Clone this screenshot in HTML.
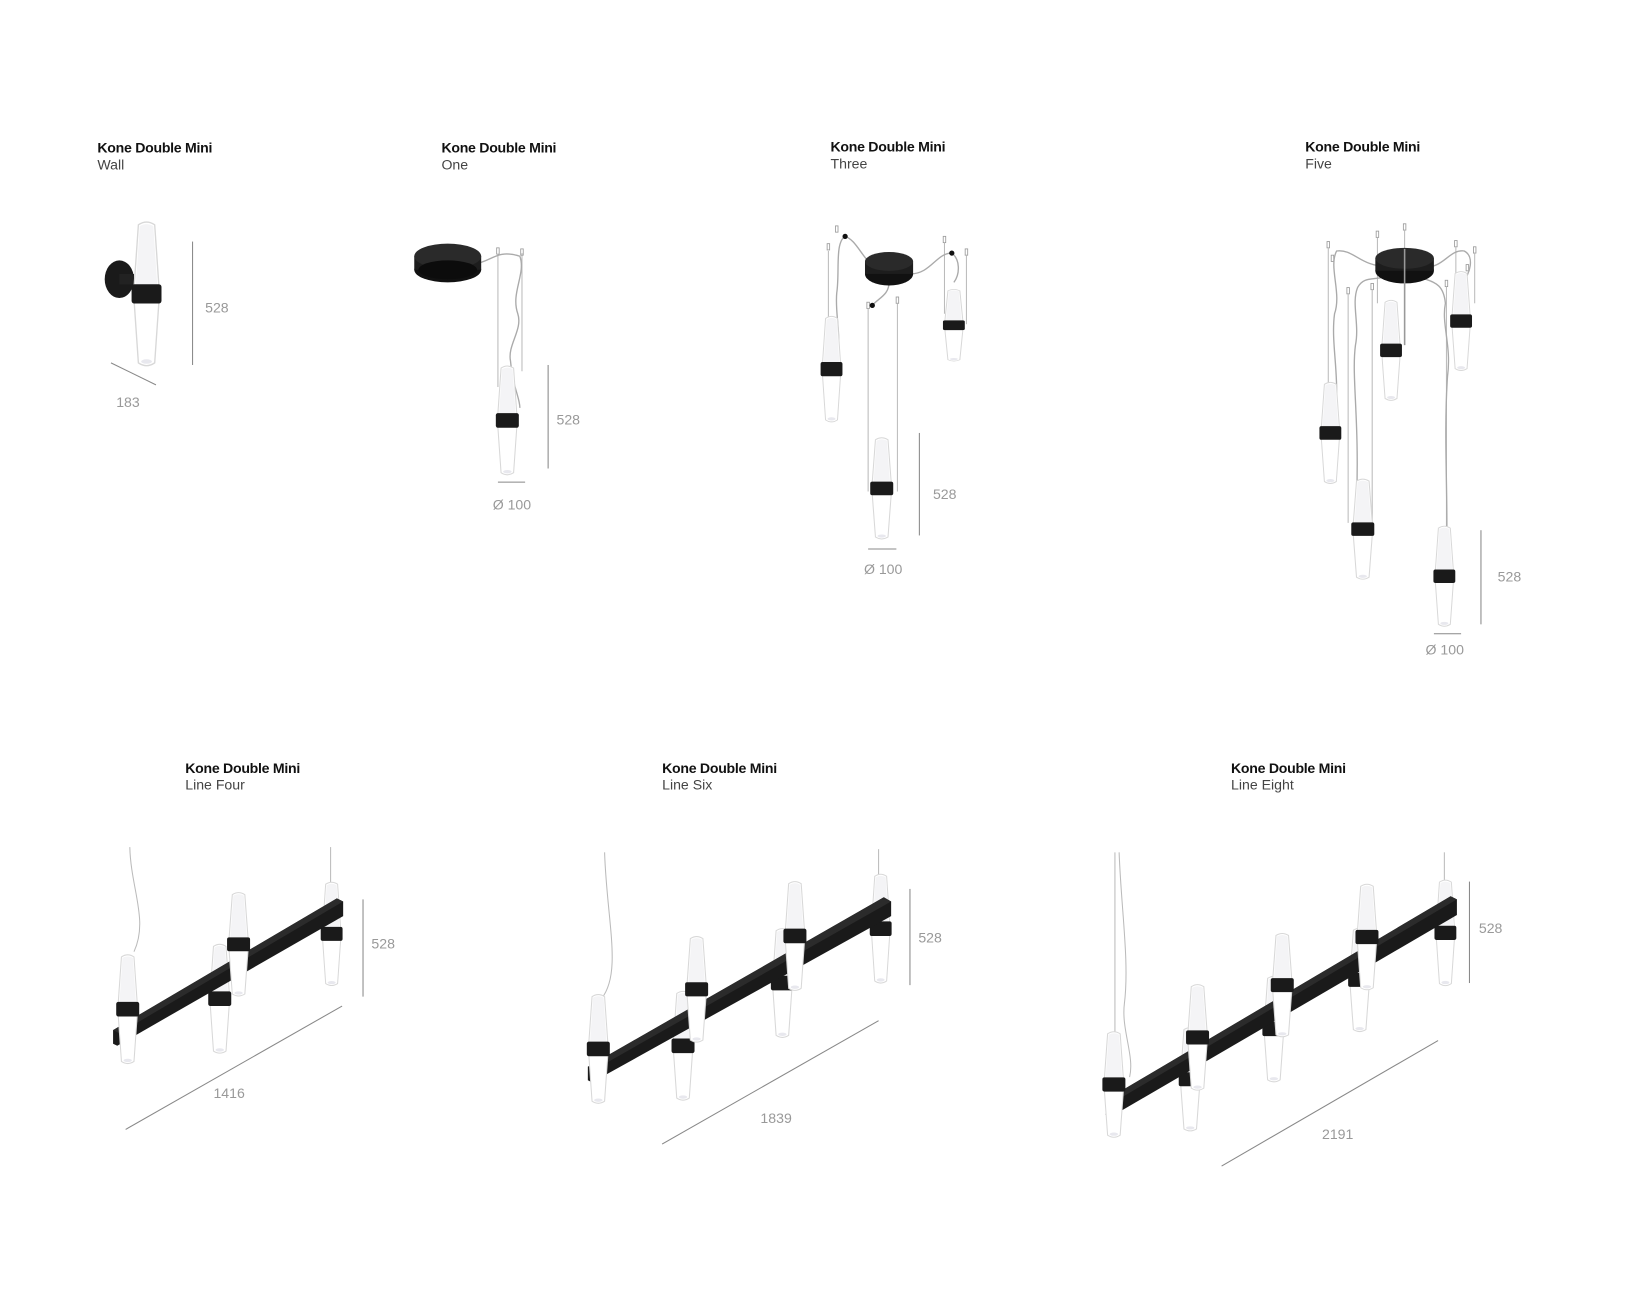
<!DOCTYPE html>
<html><head><meta charset="utf-8"><style>
html,body{margin:0;padding:0;background:#fff;}
svg{display:block;}
.t{font-family:"Liberation Sans",sans-serif;font-size:13.5px;fill:#111;font-weight:bold;}
.s{font-family:"Liberation Sans",sans-serif;font-size:13.5px;fill:#444;}
.d{font-family:"Liberation Sans",sans-serif;font-size:13.5px;fill:#999;}
.w{stroke:#bbb;stroke-width:1;fill:none;}
.c{stroke:#aaa;stroke-width:1.3;fill:none;}
.dim{stroke:#888;stroke-width:1;}
</style></head><body>
<svg width="1639" height="1302" viewBox="0 0 1567 1245" xmlns="http://www.w3.org/2000/svg">
<defs>
<g id="lamp">
<path d="M-6,-50 Q0,-54 6,-50 L9.5,0 L6,50 Q0,54 -6,50 L-9.5,0 Z" fill="#fff" stroke="#d8d8d8" stroke-width="1"/>
<path d="M-5,-49 Q0,-52 5,-49 L8,-5 L-8,-5 Z" fill="#f4f4f6"/>
<rect x="-11" y="-7" width="22" height="14" rx="2" fill="#1a1a1a"/>
<ellipse cx="0" cy="49" rx="4" ry="1.6" fill="#e8e8ee"/>
</g>
<g id="hook"><rect x="-1.2" y="0" width="2.4" height="6" fill="none" stroke="#999" stroke-width="0.8"/></g>
</defs>

<!-- titles -->
<text class="t" x="93" y="146" textLength="110">Kone Double Mini</text><text class="s" x="93" y="162">Wall</text>
<text class="t" x="422" y="146" textLength="110">Kone Double Mini</text><text class="s" x="422" y="162">One</text>
<text class="t" x="794" y="145" textLength="110">Kone Double Mini</text><text class="s" x="794" y="161">Three</text>
<text class="t" x="1248" y="145" textLength="110">Kone Double Mini</text><text class="s" x="1248" y="161">Five</text>
<text class="t" x="177" y="739" textLength="110">Kone Double Mini</text><text class="s" x="177" y="755">Line Four</text>
<text class="t" x="633" y="739" textLength="110">Kone Double Mini</text><text class="s" x="633" y="755">Line Six</text>
<text class="t" x="1177" y="739" textLength="110">Kone Double Mini</text><text class="s" x="1177" y="755">Line Eight</text>

<!-- WALL -->
<ellipse cx="114" cy="267" rx="14" ry="18" fill="#1a1a1a"/>
<rect x="114" y="262" width="14" height="10" fill="#222"/>
<use href="#lamp" transform="translate(140,281) scale(1.3,1.32)"/>
<line class="dim" x1="184" y1="231" x2="184" y2="349" stroke="#ccc"/>
<text class="d" x="196" y="299">528</text>
<line class="dim" x1="106" y1="347" x2="149" y2="368" stroke="#555"/>
<text class="d" x="111" y="389">183</text>

<!-- ONE -->
<line class="w" x1="499" y1="242" x2="499" y2="355"/>
<use href="#hook" transform="translate(476,237)"/><use href="#hook" transform="translate(499,238)"/>
<line class="w" x1="476" y1="243" x2="476" y2="370"/>
<path class="c" d="M455,252 C470,250 475,238 497,245 C503,262 488,280 495,300 C500,315 485,330 488,345 C490,370 497,380 497,390"/>
<ellipse cx="428" cy="258" rx="32" ry="12" fill="#111"/>
<rect x="396" y="245" width="64" height="13" fill="#1d1d1d"/>
<ellipse cx="428" cy="245" rx="32" ry="12" fill="#2a2a2a"/>
<ellipse cx="428" cy="258" rx="28" ry="9" fill="#0c0c0c"/>
<use href="#lamp" transform="translate(485,402)"/>
<line class="dim" x1="524" y1="349" x2="524" y2="448" stroke="#444"/>
<text class="d" x="532" y="406">528</text>
<line class="dim" x1="476" y1="461" x2="502" y2="461" stroke="#444"/>
<text class="d" x="471" y="487">Ø 100</text>

<!-- THREE -->
<use href="#hook" transform="translate(800,216)"/><use href="#hook" transform="translate(792,233)"/>
<use href="#hook" transform="translate(903,226)"/><use href="#hook" transform="translate(924,238)"/>
<use href="#hook" transform="translate(830,289)"/><use href="#hook" transform="translate(858,284)"/>
<line class="w" x1="792" y1="240" x2="792" y2="340"/>
<line class="w" x1="903" y1="232" x2="903" y2="300"/>
<line class="w" x1="924" y1="244" x2="924" y2="310"/>
<line class="w" x1="830" y1="295" x2="830" y2="470"/>
<line class="w" x1="858" y1="290" x2="858" y2="470"/>
<path class="c" d="M840,258 C825,250 820,230 808,226 C798,232 803,260 800,280 C798,300 805,320 800,345"/>
<path class="c" d="M870,262 C890,262 895,242 910,242 C918,248 918,262 912,270"/>
<path class="c" d="M850,270 C850,282 840,285 834,292"/>
<circle cx="808" cy="226" r="2.5" fill="#111"/><circle cx="910" cy="242" r="2.5" fill="#111"/><circle cx="834" cy="292" r="2.5" fill="#111"/>
<ellipse cx="850" cy="262" rx="23" ry="11" fill="#111"/>
<rect x="827" y="250" width="46" height="12" fill="#1d1d1d"/>
<ellipse cx="850" cy="250" rx="23" ry="9" fill="#2a2a2a"/>
<use href="#lamp" transform="translate(795,353) scale(0.95,0.97)"/>
<use href="#lamp" transform="translate(912,311) scale(0.95,0.66)"/>
<use href="#lamp" transform="translate(843,467) scale(1,0.93)"/>
<line class="dim" x1="879" y1="414" x2="879" y2="512" stroke="#444"/>
<text class="d" x="892" y="477">528</text>
<line class="dim" x1="830" y1="525" x2="857" y2="525" stroke="#444"/>
<text class="d" x="826" y="549">Ø 100</text>

<!-- FIVE -->
<use href="#hook" transform="translate(1343,214)"/><use href="#hook" transform="translate(1317,221)"/>
<use href="#hook" transform="translate(1270,231)"/><use href="#hook" transform="translate(1274,244)"/>
<use href="#hook" transform="translate(1392,230)"/><use href="#hook" transform="translate(1410,236)"/>
<use href="#hook" transform="translate(1289,275)"/><use href="#hook" transform="translate(1312,271)"/>
<use href="#hook" transform="translate(1383,268)"/><use href="#hook" transform="translate(1403,253)"/>
<line class="w" x1="1343" y1="220" x2="1343" y2="330"/>
<line class="w" x1="1317" y1="227" x2="1317" y2="290"/>
<line class="w" x1="1270" y1="237" x2="1270" y2="400"/>
<line class="w" x1="1392" y1="236" x2="1392" y2="280"/>
<line class="w" x1="1410" y1="242" x2="1410" y2="290"/>
<line class="w" x1="1289" y1="281" x2="1289" y2="500"/>
<line class="w" x1="1312" y1="277" x2="1312" y2="500"/>
<line class="w" x1="1383" y1="274" x2="1383" y2="540"/>
<path class="c" d="M1328,255 C1300,255 1295,238 1278,240 C1270,255 1283,280 1276,300 C1272,330 1282,360 1276,400"/>
<path class="c" d="M1360,255 C1380,258 1385,238 1400,240 C1410,245 1406,262 1398,270"/>
<path class="c" d="M1328,262 C1318,270 1305,262 1298,275 C1292,290 1300,310 1296,330 C1292,360 1300,400 1297,480"/>
<path class="c" d="M1358,265 C1370,270 1380,270 1382,290 C1378,310 1388,330 1384,360 C1380,420 1385,480 1383,530"/>
<ellipse cx="1343" cy="259" rx="28" ry="12" fill="#111"/>
<rect x="1315" y="247" width="56" height="12" fill="#1d1d1d"/>
<ellipse cx="1343" cy="247" rx="28" ry="10" fill="#2a2a2a"/>
<line stroke="#999" stroke-width="1.5" x1="1343" y1="238" x2="1343" y2="330"/>
<use href="#lamp" transform="translate(1272,414) scale(0.95,0.93)"/>
<use href="#lamp" transform="translate(1330,335) scale(0.95,0.92)"/>
<use href="#lamp" transform="translate(1397,307) scale(0.95,0.91)"/>
<use href="#lamp" transform="translate(1303,506) scale(1,0.92)"/>
<use href="#lamp" transform="translate(1381,551) scale(0.95,0.92)"/>
<line class="dim" x1="1416" y1="507" x2="1416" y2="597" stroke="#444"/>
<text class="d" x="1432" y="556">528</text>
<line class="dim" x1="1371" y1="606" x2="1397" y2="606" stroke="#444"/>
<text class="d" x="1363" y="626">Ø 100</text>

<!-- LINE FOUR -->
<path class="w" d="M124,810 C125,850 142,880 128,910" />
<line class="w" x1="316" y1="810" x2="316" y2="848"/>
<use href="#lamp" transform="translate(210,955) scale(1,1)"/>
<use href="#lamp" transform="translate(317,893) scale(0.95,0.95)"/>
<path d="M108,985 L322,859 L328,862 L328,876 L112,1000 L108,998 Z" fill="#1a1a1a"/>
<path d="M108,985 L322,859 L328,862 L114,988 Z" fill="#2b2b2b"/>
<use href="#lamp" transform="translate(122,965)"/>
<use href="#lamp" transform="translate(228,903) scale(1,0.95)"/>
<line class="dim" x1="347" y1="860" x2="347" y2="953" stroke="#aaa"/>
<text class="d" x="355" y="907">528</text>
<line class="dim" x1="120" y1="1080" x2="327" y2="962" stroke="#555"/>
<text class="d" x="204" y="1050">1416</text>

<!-- LINE SIX -->
<path class="w" d="M578,815 C580,880 595,930 575,955"/>
<line class="w" x1="840" y1="812" x2="840" y2="840"/>
<use href="#lamp" transform="translate(653,1000) scale(1,1)"/>
<use href="#lamp" transform="translate(748,940) scale(1,1)"/>
<use href="#lamp" transform="translate(842,888) scale(0.95,1)"/>
<path d="M562,1020 L845,858 L852,862 L852,876 L566,1035 L562,1033 Z" fill="#1a1a1a"/>
<path d="M562,1020 L845,858 L852,862 L568,1023 Z" fill="#2b2b2b"/>
<use href="#lamp" transform="translate(572,1003)"/>
<use href="#lamp" transform="translate(666,946) scale(1,0.97)"/>
<use href="#lamp" transform="translate(760,895) scale(1,1)"/>
<line class="dim" x1="870" y1="850" x2="870" y2="942" stroke="#444"/>
<text class="d" x="878" y="901">528</text>
<line class="dim" x1="633" y1="1094" x2="840" y2="976" stroke="#555"/>
<text class="d" x="727" y="1074">1839</text>

<!-- LINE EIGHT -->
<path class="w" d="M1070,815 C1072,870 1080,920 1075,960 C1072,985 1085,1010 1080,1030"/>
<line class="w" x1="1066" y1="815" x2="1066" y2="990"/>
<line class="w" x1="1381" y1="815" x2="1381" y2="845"/>
<use href="#lamp" transform="translate(1138,1032) scale(1,0.95)"/>
<use href="#lamp" transform="translate(1218,984) scale(1,0.97)"/>
<use href="#lamp" transform="translate(1300,937) scale(1,0.95)"/>
<use href="#lamp" transform="translate(1382,892) scale(0.95,0.97)"/>
<path d="M1057,1052 L1387,857 L1393,860 L1393,875 L1062,1068 L1057,1066 Z" fill="#1a1a1a"/>
<path d="M1057,1052 L1387,857 L1393,860 L1063,1055 Z" fill="#2b2b2b"/>
<use href="#lamp" transform="translate(1065,1037) scale(1,0.97)"/>
<use href="#lamp" transform="translate(1145,992) scale(1,0.97)"/>
<use href="#lamp" transform="translate(1226,942) scale(1,0.95)"/>
<use href="#lamp" transform="translate(1307,896) scale(1,0.97)"/>
<line class="dim" x1="1405" y1="843" x2="1405" y2="940" stroke="#aaa"/>
<text class="d" x="1414" y="892">528</text>
<line class="dim" x1="1168" y1="1115" x2="1375" y2="995" stroke="#555"/>
<text class="d" x="1264" y="1089">2191</text>
</svg>
</body></html>
